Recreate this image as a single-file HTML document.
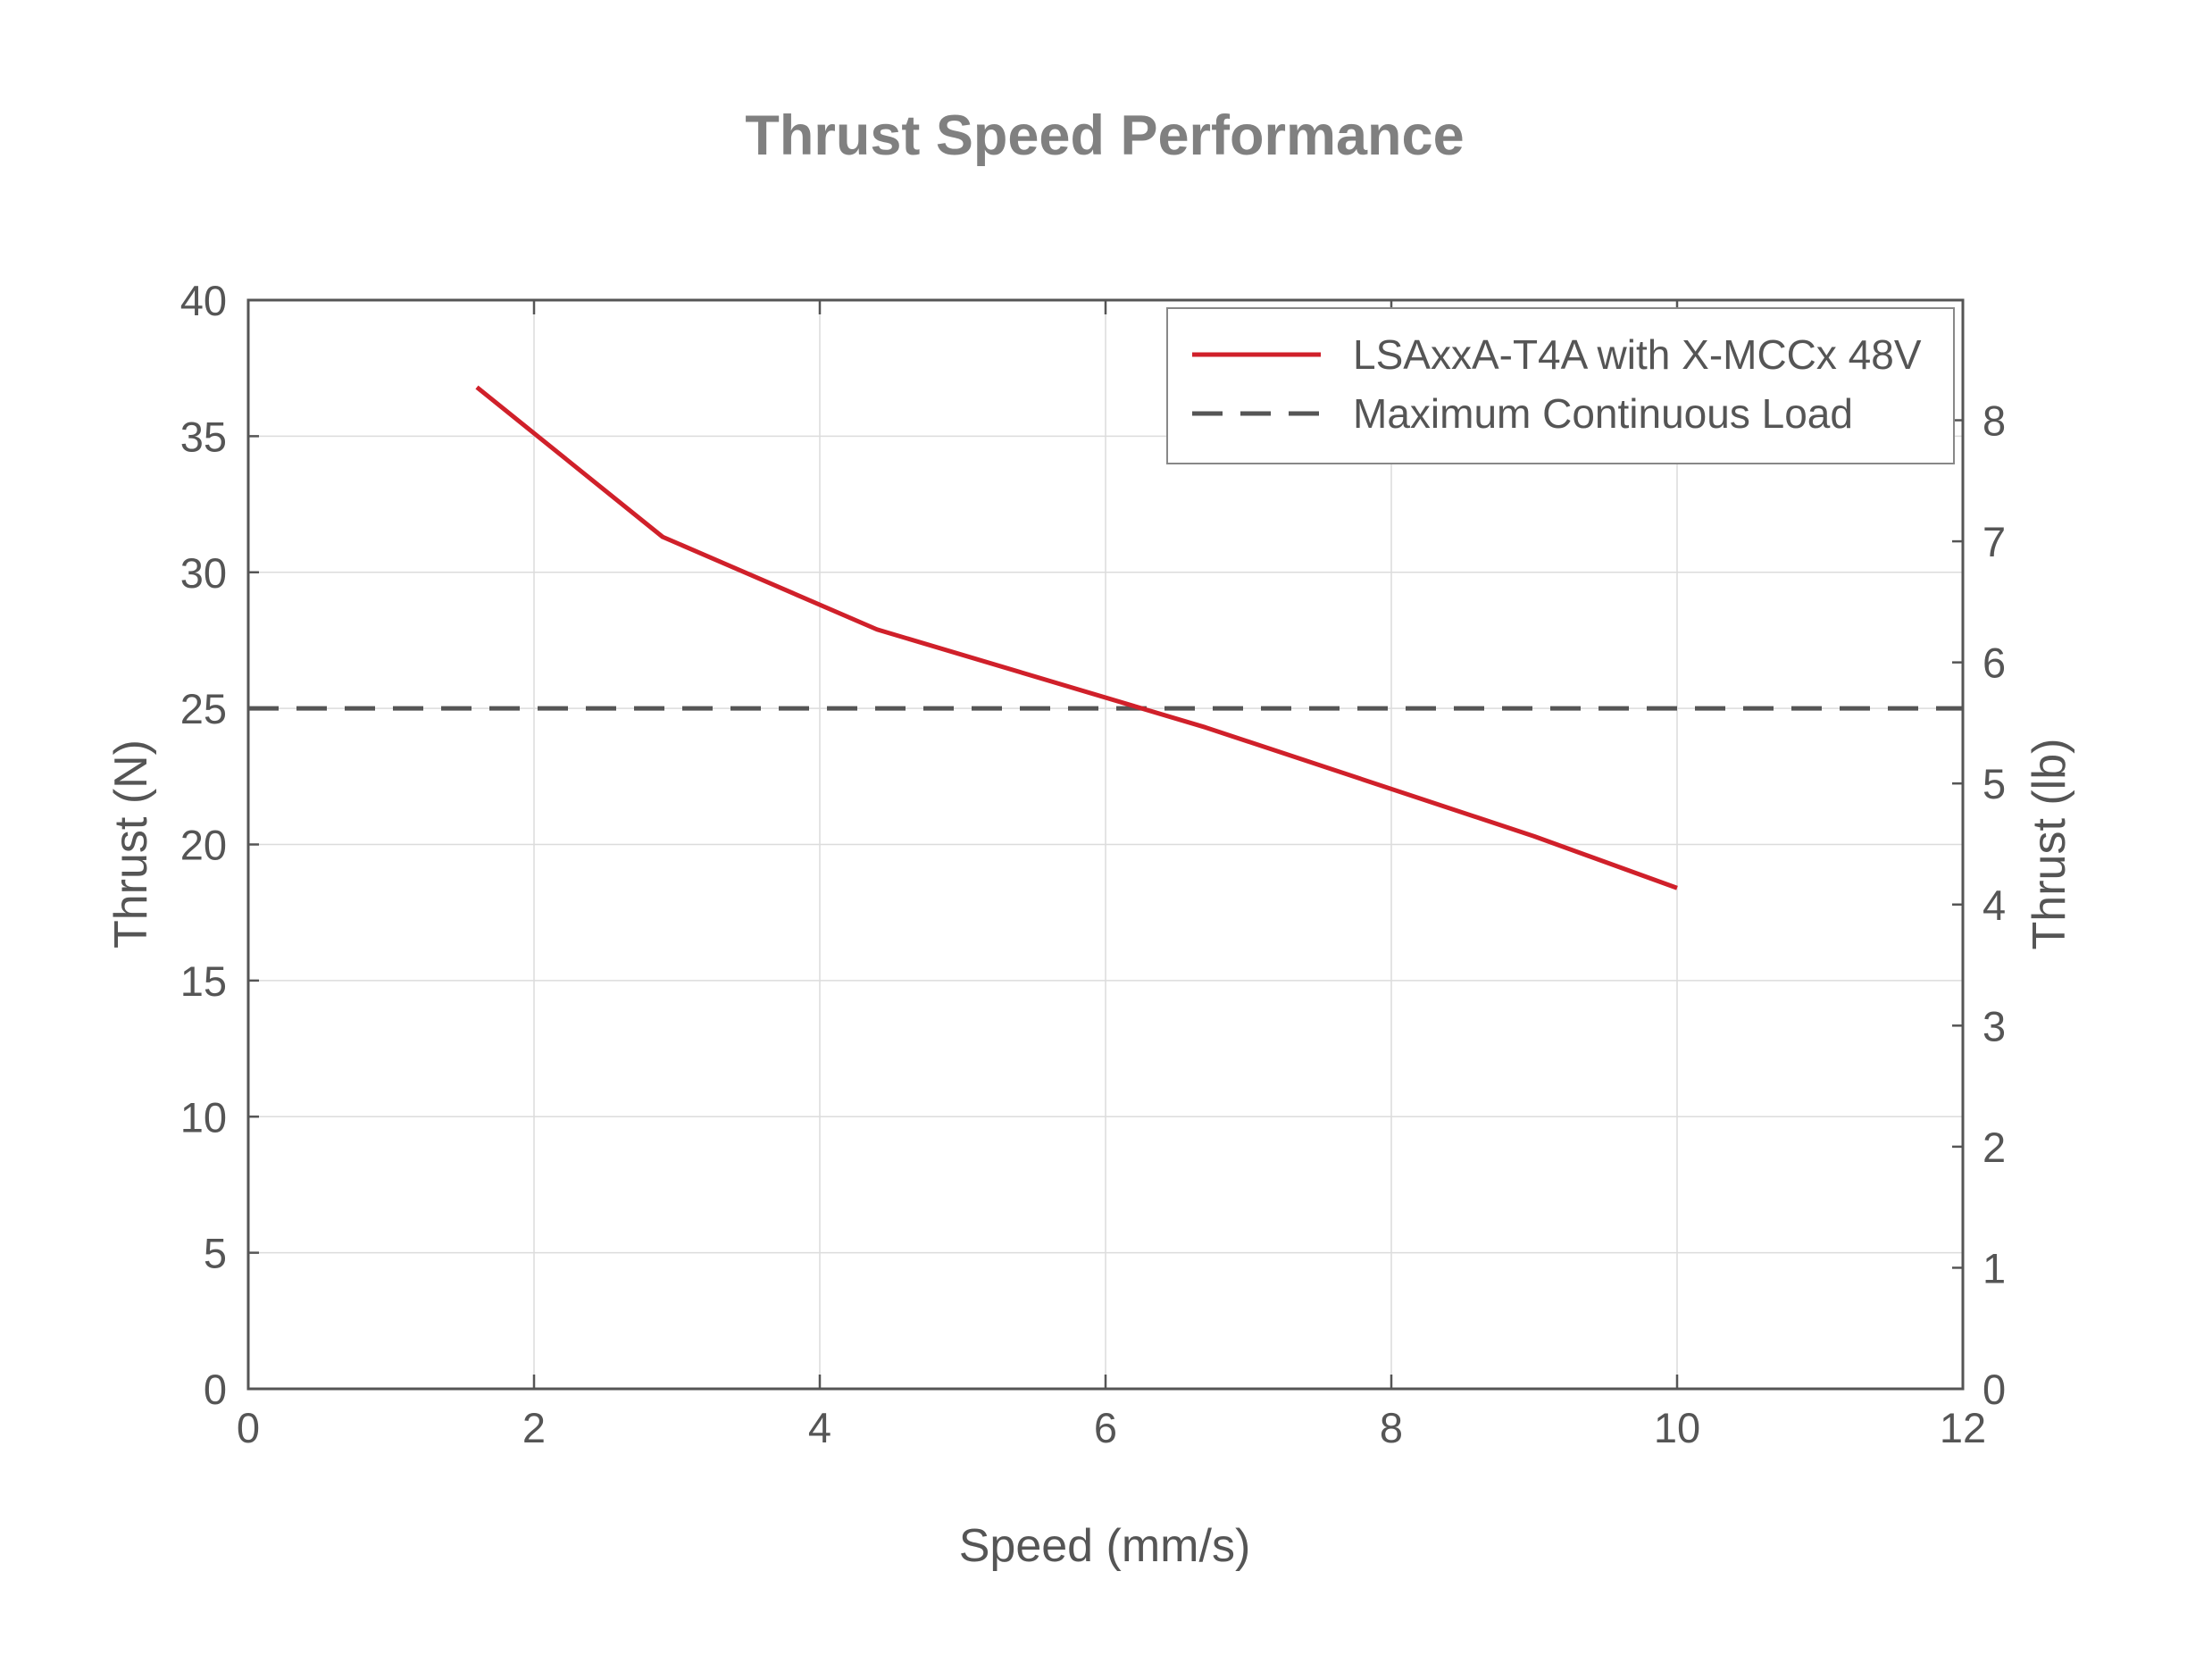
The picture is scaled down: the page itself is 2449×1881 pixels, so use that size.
<!DOCTYPE html>
<html><head><meta charset="utf-8"><style>html,body{margin:0;padding:0;background:#fff}svg{display:block}text{font-family:"Liberation Sans",Arial,sans-serif;fill:#555}</style></head>
<body>
<svg id="chart" width="2449" height="1881" viewBox="0 0 2449 1881" xmlns="http://www.w3.org/2000/svg">
<rect width="2449" height="1881" fill="#fff"/>
<text x="1237" y="173" text-anchor="middle" font-size="63" font-weight="bold" style="fill:#808080">Thrust Speed Performance</text>
<g id="grid"></g>
<g id="series"></g>
<g id="axes"></g>
<text x="1237" y="1748" text-anchor="middle" font-size="52">Speed (mm/s)</text>
<text transform="translate(164,945) rotate(-90)" text-anchor="middle" font-size="52">Thrust (N)</text>
<text transform="translate(2312,945) rotate(-90)" text-anchor="middle" font-size="52">Thrust (lb)</text>
<g>
<rect x="1307" y="345" width="881" height="174" fill="#fff" stroke="#888" stroke-width="2"/>
<line x1="1335" y1="397" x2="1479" y2="397" stroke="#d0202a" stroke-width="5"/>
<text x="1515" y="413" font-size="46">LSAxxA-T4A with X-MCCx 48V</text>
<line x1="1335" y1="463" x2="1479" y2="463" stroke="#555" stroke-width="5" stroke-dasharray="34,20"/>
<text x="1515" y="479" font-size="46">Maximum Continuous Load</text>
</g>
</svg>
<script>
const speeds = [1.6, 2.9, 4.4, 6.7, 9.0, 10.0];
const thrustN = [36.8, 31.3, 27.9, 24.3, 20.3, 18.4];
const maxLoadN = [25];
const xTicks = [0, 2, 4, 6, 8, 10, 12];
const yTicks = [0, 5, 10, 15, 20, 25, 30, 35, 40];
const yTicksLb = [0, 1, 2, 3, 4, 5, 6, 7, 8];

const L = 278, R = 2198, T = 336, B = 1555;
const NS = 'http://www.w3.org/2000/svg';
const sx = v => L + (v - 0) / 12 * (R - L);
const sy = v => B - v / 40 * (B - T);
const syLb = v => sy(v * 4.44822);
function mk(tag, attrs, parent, txt) {
  const e = document.createElementNS(NS, tag);
  for (const k in attrs) e.setAttribute(k, attrs[k]);
  if (txt !== undefined) e.textContent = txt;
  parent.appendChild(e);
  return e;
}
const grid = document.getElementById('grid');
const axes = document.getElementById('axes');
const series = document.getElementById('series');

xTicks.forEach(t => {
  const x = sx(t);
  if (t > 0 && t < 12) {
    const g = mk('line', {x1: x, x2: x, y1: T, y2: B, stroke: '#dcdcdc', 'stroke-width': 1.5}, grid);
    
    
    const k1 = mk('line', {x1: x, x2: x, y1: B, y2: B - 16, stroke: '#555', 'stroke-width': 2.5}, axes);
    
    
    const k2 = mk('line', {x1: x, x2: x, y1: T, y2: T + 16, stroke: '#555', 'stroke-width': 2.5}, axes);
    
    
  }
  const lb = mk('text', {x: x, y: B + 60, 'text-anchor': 'middle', 'font-size': 47}, axes, String(t));
  
  
});
yTicks.forEach(t => {
  const y = sy(t);
  if (t > 0 && t < 40) {
    const g = mk('line', {x1: L, x2: R, y1: y, y2: y, stroke: '#dcdcdc', 'stroke-width': 1.5}, grid);
    
    
    const k = mk('line', {x1: L, x2: L + 12, y1: y, y2: y, stroke: '#555', 'stroke-width': 2.5}, axes);
    
    
  }
  const lb = mk('text', {x: 254, y: y + 17, 'text-anchor': 'end', 'font-size': 47}, axes, String(t));
  
  
});
yTicksLb.forEach(t => {
  const y = syLb(t);
  if (t > 0) {
    const k = mk('line', {x1: R, x2: R - 12, y1: y, y2: y, stroke: '#555', 'stroke-width': 2.5}, axes);
    
    
  }
  const lb = mk('text', {x: 2220, y: y + 17, 'text-anchor': 'start', 'font-size': 47}, axes, String(t));
  
  
});
const frame = mk('rect', {x: L, y: T, width: R - L, height: B - T, fill: 'none', stroke: '#555', 'stroke-width': 3}, axes);



const ml = mk('line', {x1: L, x2: R, y1: sy(maxLoadN[0]), y2: sy(maxLoadN[0]), stroke: '#555', 'stroke-width': 5, 'stroke-dasharray': '34,20'}, series);



const pts = speeds.map((s, i) => sx(s) + ',' + sy(thrustN[i])).join(' ');
const pl = mk('polyline', {points: pts, fill: 'none', stroke: '#d0202a', 'stroke-width': 5, 'stroke-linejoin': 'round'}, series);


</script>
</body></html>
